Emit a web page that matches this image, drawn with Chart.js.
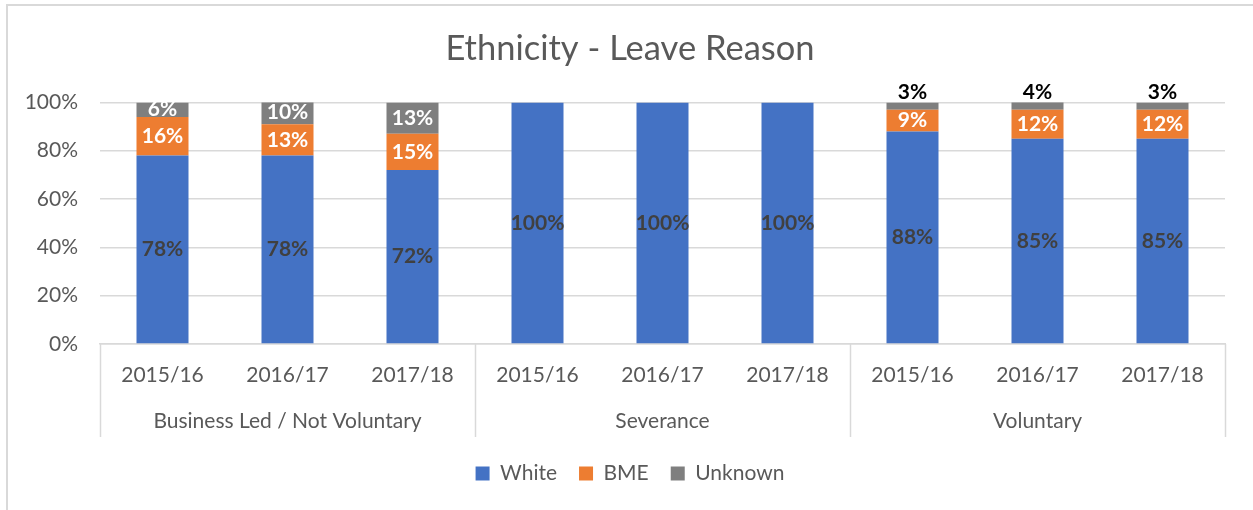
<!DOCTYPE html>
<html>
<head>
<meta charset="utf-8">
<title>Ethnicity - Leave Reason</title>
<script src="https://cdn.jsdelivr.net/npm/chart.js@4"></script>
<style>
    html, body { margin: 0; padding: 0; background: #fff; }
    body { width: 1253px; height: 510px; position: relative; overflow: hidden; }
    .frame {
        position: absolute; left: 6px; top: 4px; width: 1400px; height: 600px;
        border-left: 2px solid #d9d9d9; border-top: 2px solid #d9d9d9;
    }
    .wrap { position: absolute; left: 7px; top: 0; width: 1246px; height: 510px; }
</style>
</head>
<body>
<div class="frame"></div>
<div class="wrap"><canvas id="leaveChart"></canvas></div>
<script>
// Ethnicity split by leave reason, per financial year (percent of leavers)
const years = ['2015/16', '2016/17', '2017/18', '2015/16', '2016/17', '2017/18', '2015/16', '2016/17', '2017/18'];
const reasons = ['Business Led / Not Voluntary', 'Severance', 'Voluntary'];
const white = [78, 78, 72, 100, 100, 100, 88, 85, 85];
const bme = [16, 13, 15, 0, 0, 0, 9, 12, 12];
const unknown = [6, 10, 13, 0, 0, 0, 3, 4, 3];
const yTicks = [0, 20, 40, 60, 80, 100];

const FONT = 'Lato, "Open Sans", sans-serif';
const TEXT = '#595959';
const GRID = '#d9d9d9';

// Percent labels on each segment; thin segments get theirs above the bar
const segmentLabels = {
    id: 'segmentLabels',
    afterDatasetsDraw(chart) {
        const c = chart.ctx;
        c.save();
        c.font = 'bold 21px ' + FONT;
        c.textAlign = 'center';
        c.textBaseline = 'middle';
        chart.data.datasets.forEach((ds, di) => {
            const meta = chart.getDatasetMeta(di);
            meta.data.forEach((bar, i) => {
                const v = ds.data[i];
                if (!v) return;
                const top = Math.min(bar.y, bar.base);
                const h = Math.abs(bar.base - bar.y);
                if (v < 5) {
                    c.fillStyle = '#000';
                    c.fillText(v + '%', bar.x, Math.max(top, chart.chartArea.top) - 10);
                } else {
                    c.fillStyle = di === 0 ? '#404040' : '#ffffff';
                    c.fillText(v + '%', bar.x, top + h / 2);
                }
            });
        });
        c.restore();
    }
};

// Vertical dividers between the leave reason groups under the axis
const groupDividers = {
    id: 'groupDividers',
    afterDraw(chart) {
        const x = chart.scales.x;
        const x2 = chart.scales.x2;
        const c = chart.ctx;
        c.save();
        c.strokeStyle = GRID;
        c.lineWidth = 1.5;
        for (let g = 0; g <= reasons.length; g++) {
            const px = Math.round(x.getPixelForValue(g * 3 - 0.5)) + 0.5;
            c.beginPath();
            c.moveTo(px, chart.chartArea.bottom);
            c.lineTo(px, x2.top + 46);
            c.stroke();
        }
        c.restore();
    }
};

new Chart(document.getElementById('leaveChart'), {
    type: 'bar',
    data: {
        labels: years,
        datasets: [
            { label: 'White', data: white, backgroundColor: '#4472c4' },
            { label: 'BME', data: bme, backgroundColor: '#ed7d31' },
            { label: 'Unknown', data: unknown, backgroundColor: '#7f7f7f' }
        ]
    },
    options: {
        responsive: true,
        maintainAspectRatio: false,
        animation: false,
        datasets: {
            bar: { categoryPercentage: 1, barPercentage: 0.416 }
        },
        layout: { padding: { left: 0, right: 0, top: 0, bottom: 16 } },
        plugins: {
            title: {
                display: true,
                text: 'Ethnicity - Leave Reason',
                color: TEXT,
                font: { family: FONT, size: 34.5, weight: 'normal', lineHeight: 1.2 },
                padding: { top: 28, bottom: 33 }
            },
            legend: {
                position: 'bottom',
                labels: {
                    color: TEXT,
                    font: { family: FONT, size: 21 },
                    boxWidth: 14,
                    boxHeight: 14,
                    padding: 22
                }
            },
            tooltip: { enabled: false }
        },
        scales: {
            x: {
                stacked: true,
                weight: 0,
                grid: { display: false },
                border: { color: GRID, width: 1.5 },
                ticks: { color: TEXT, font: { family: FONT, size: 21 }, padding: 11, maxRotation: 0 },
                afterFit(scale) { scale.height = 47; }
            },
            x2: {
                type: 'category',
                labels: reasons,
                position: 'bottom',
                weight: 1,
                grid: { display: false },
                border: { display: false },
                ticks: { color: TEXT, font: { family: FONT, size: 21 }, padding: 10, maxRotation: 0 },
                afterFit(scale) { scale.height = 50; }
            },
            y: {
                stacked: true,
                min: 0,
                max: 100,
                border: { display: false },
                grid: { color: GRID, lineWidth: 1.5, drawTicks: false },
                afterBuildTicks(scale) { scale.ticks = yTicks.map(v => ({ value: v })); },
                ticks: {
                    color: TEXT,
                    font: { family: FONT, size: 21 },
                    padding: 22,
                    callback: v => v + '%'
                },
                afterFit(scale) { scale.width = 93; }
            },
            // empty right-hand gutter so the plot stops short of the edge
            gutter: {
                type: 'linear',
                position: 'right',
                grid: { display: false },
                border: { display: false },
                ticks: { display: false },
                afterFit(scale) { scale.width = 28; }
            }
        }
    },
    plugins: [segmentLabels, groupDividers]
});
</script>
</body>
</html>
